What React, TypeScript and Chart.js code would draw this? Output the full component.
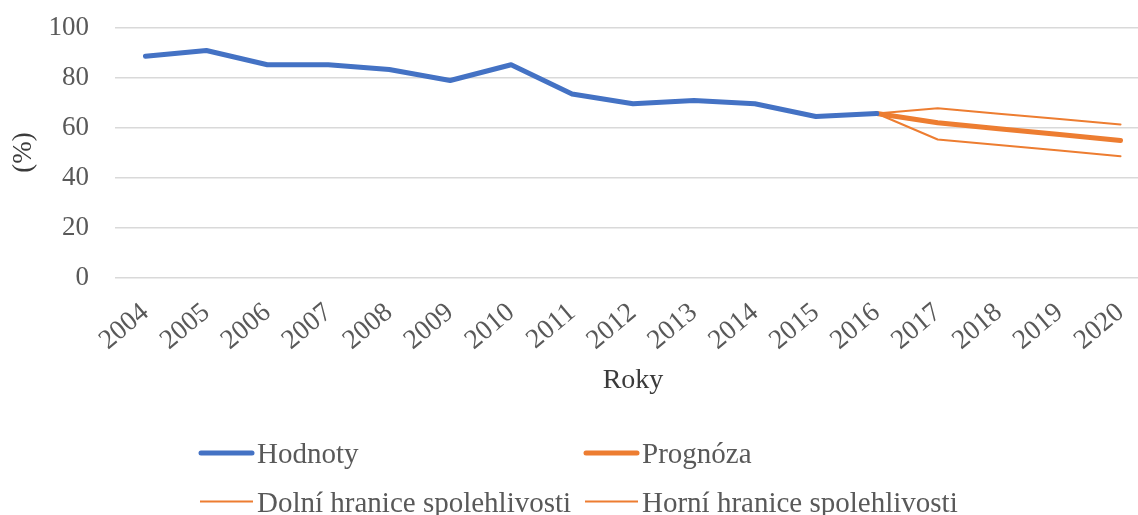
import React, { useEffect, useRef } from 'react';
import { Chart, registerables } from 'chart.js';

Chart.register(...registerables);

const years = ['2004', '2005', '2006', '2007', '2008', '2009', '2010', '2011', '2012', '2013', '2014', '2015', '2016', '2017', '2018', '2019', '2020'];
const yTicks = [0, 20, 40, 60, 80, 100];
const hodnoty = [88.5, 90.8, 85.1, 85.1, 83.2, 78.8, 85.1, 73.4, 69.5, 70.8, 69.5, 64.4, 65.6, null, null, null, null];
const prognoza = [null, null, null, null, null, null, null, null, null, null, null, null, 65.6, 61.9, 59.5, 57.2, 54.8];
const dolni = [null, null, null, null, null, null, null, null, null, null, null, null, 65.6, 55.2, 53.0, 50.8, 48.5];
const horni = [null, null, null, null, null, null, null, null, null, null, null, null, 65.6, 67.7, 65.5, 63.4, 61.2];

const seriesNames = ['Hodnoty', 'Prognóza', 'Dolní hranice spolehlivosti', 'Horní hranice spolehlivosti'];
const BLUE = '#4472C4';
const ORANGE = '#ED7D31';
const TEXT = '#595959';
const TITLE = '#3a3a3a';
const FONT = '"Liberation Serif", "Times New Roman", serif';
const CANVAS_W = 1151;

const legendPlugin = {
  id: 'gridLegend',
  afterDraw(chart: any) {
    const ctx = chart.ctx as CanvasRenderingContext2D;
    const slots = [
      { x: 198, line: 453, base: 463 },
      { x: 583, line: 453, base: 463 },
      { x: 198, line: 501.5, base: 511.5 },
      { x: 583, line: 501.5, base: 511.5 },
    ];
    ctx.save();
    chart.data.datasets.forEach((ds: any, i: number) => {
      const s = slots[i];
      const thick = ds.borderWidth > 3;
      ctx.beginPath();
      ctx.strokeStyle = ds.borderColor;
      ctx.lineWidth = ds.borderWidth;
      ctx.lineCap = thick ? 'round' : 'butt';
      ctx.moveTo(s.x + (thick ? 3 : 2), s.line);
      ctx.lineTo(s.x + (thick ? 54 : 55), s.line);
      ctx.stroke();
      ctx.fillStyle = TEXT;
      ctx.font = `29px ${FONT}`;
      ctx.textBaseline = 'alphabetic';
      ctx.textAlign = 'left';
      ctx.fillText(ds.label, s.x + 59, s.base);
    });
    ctx.restore();
  },
};

export default function App() {
  const ref = useRef<HTMLCanvasElement>(null);
  useEffect(() => {
    document.body.style.margin = '0';
    document.body.style.overflow = 'hidden';
    if (!ref.current) return;
    const lineCommon = {
      pointRadius: 0,
      pointHoverRadius: 0,
      borderCapStyle: 'round' as const,
      borderJoinStyle: 'round' as const,
      spanGaps: false,
      tension: 0,
    };
    const chart = new Chart(ref.current, {
      type: 'line',
      data: {
        labels: years,
        datasets: [
          { ...lineCommon, label: seriesNames[0], data: hodnoty, borderColor: BLUE, backgroundColor: BLUE, borderWidth: 5 },
          { ...lineCommon, label: seriesNames[1], data: prognoza, borderColor: ORANGE, backgroundColor: ORANGE, borderWidth: 5 },
          { ...lineCommon, label: seriesNames[2], data: dolni, borderColor: ORANGE, backgroundColor: ORANGE, borderWidth: 2 },
          { ...lineCommon, label: seriesNames[3], data: horni, borderColor: ORANGE, backgroundColor: ORANGE, borderWidth: 2 },
        ],
      },
      options: {
        animation: false,
        responsive: false,
        maintainAspectRatio: false,
        layout: { padding: { left: 4, right: 0, top: 27.5, bottom: 113.5 } },
        plugins: {
          legend: { display: false },
          tooltip: { enabled: false },
        },
        scales: {
          x: {
            type: 'category',
            offset: true,
            afterFit: (s: any) => {
              s.height = 124;
              s.paddingLeft = 0;
              s.paddingRight = 0;
            },
            grid: { display: false, offset: true },
            border: { display: false },
            ticks: {
              autoSkip: false,
              minRotation: 40,
              maxRotation: 40,
              padding: 11,
              color: TEXT,
              font: { family: FONT, size: 27.5 },
            },
            title: {
              display: true,
              text: 'Roky',
              color: TITLE,
              font: { family: FONT, size: 28 },
            },
          },
          y: {
            type: 'linear',
            min: 0,
            max: 100,
            afterBuildTicks: (s: any) => {
              s.ticks = yTicks.map((v) => ({ value: v }));
            },
            afterFit: (s: any) => {
              s.width = 111;
              s.paddingTop = 0;
              s.paddingBottom = 0;
            },
            grid: { color: '#D9D9D9', lineWidth: 1.5, drawTicks: false },
            border: { display: false },
            ticks: {
              padding: 26,
              color: TEXT,
              font: { family: FONT, size: 27 },
            },
            title: {
              display: true,
              text: '(%)',
              color: TITLE,
              font: { family: FONT, size: 27 },
            },
          },
        },
      },
      plugins: [legendPlugin],
    });
    return () => chart.destroy();
  }, []);
  return (
    <div style={{ width: 1138, height: 515, overflow: 'hidden' }}>
      <canvas ref={ref} width={CANVAS_W} height={515} style={{ display: 'block', width: CANVAS_W, height: 515 }} />
    </div>
  );
}
